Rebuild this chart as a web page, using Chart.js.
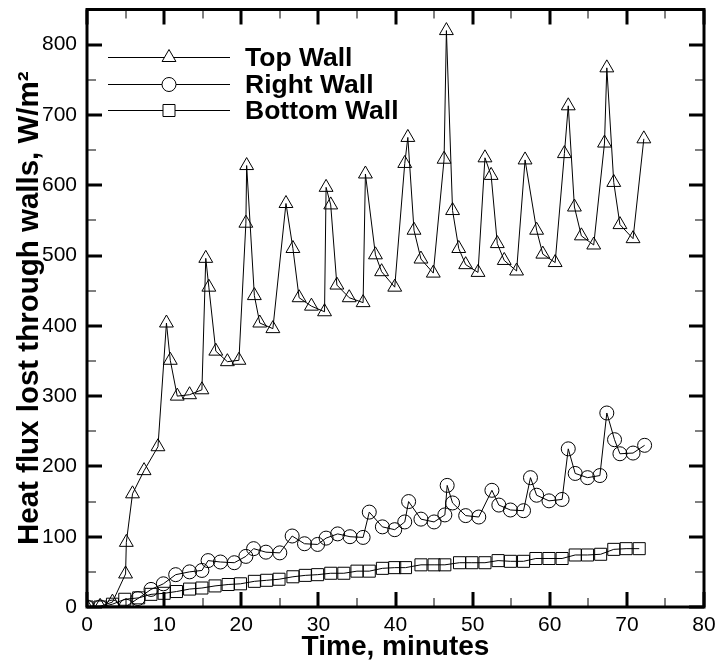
<!DOCTYPE html>
<html lang="en">
<head>
<meta charset="UTF-8">
<title>Heat flux lost through walls</title>
<script src="https://cdn.jsdelivr.net/npm/chart.js"></script>
<style>
  html, body { margin: 0; padding: 0; background: #fff; }
  .graph { position: relative; width: 717px; height: 667px; }
</style>
</head>
<body>
<div class="graph">
  <canvas id="fluxChart" width="717" height="667"></canvas>
</div>
<script>
// time (minutes) and heat flux (W/m2) for each wall
var topTime = [0, 1.7, 3.3, 5.0, 5.1, 5.9, 7.4, 9.2, 10.3, 10.8,
  11.7, 13.3, 14.9, 15.4, 15.8, 16.7, 18.2, 19.7, 20.6, 20.7,
  21.7, 22.4, 24.1, 25.8, 26.7, 27.5, 29.1, 30.8, 31.0, 31.6,
  32.4, 34.0, 35.8, 36.1, 37.4, 38.2, 39.9, 41.2, 41.6, 42.4,
  43.3, 44.9, 46.3, 46.6, 47.4, 48.2, 49.1, 50.7, 51.6, 52.4,
  53.2, 54.1, 55.7, 56.8, 58.3, 59.1, 60.7, 61.9, 62.4, 63.2,
  64.1, 65.7, 67.1, 67.4, 68.3, 69.1, 70.8, 72.2];
var topFlux = [0, 1, 7, 47, 92, 161, 194, 228, 404, 351,
  300, 302, 309, 496, 455, 364, 349, 351, 546, 628,
  443, 404, 396, 574, 510, 440, 428, 420, 597, 572,
  458, 440, 433, 616, 501, 477, 455, 631, 668, 536,
  495, 475, 637, 820, 564, 510, 487, 476, 639, 614,
  517, 493, 478, 636, 536, 502, 490, 645, 713, 569,
  528, 515, 660, 767, 604, 544, 524, 666];

var rightTime = [0, 1.7, 3.3, 5.1, 6.6, 8.3, 9.9, 11.5, 13.3, 14.9,
  15.7, 17.3, 19.1, 20.6, 21.6, 23.2, 25.0, 26.6, 28.2, 29.9,
  31.0, 32.5, 34.1, 35.8, 36.6, 38.3, 39.9, 41.2, 41.7, 43.3,
  45.0, 46.4, 46.7, 47.4, 49.1, 50.8, 52.5, 53.4, 54.9, 56.6,
  57.5, 58.3, 59.9, 61.6, 62.4, 63.3, 64.9, 66.5, 67.4, 68.4,
  69.1, 70.8, 72.3];
var rightFlux = [0, 0, 0, 1, 12, 25, 33, 46, 50, 52,
  66, 64, 63, 72, 83, 78, 77, 101, 90, 89,
  98, 104, 100, 99, 135, 114, 110, 121, 150, 125,
  121, 131, 173, 148, 130, 128, 166, 145, 138, 137,
  184, 159, 151, 153, 225, 190, 184, 187, 276, 238,
  218, 219, 230];

var bottomTime = [0, 1.7, 3.3, 4.9, 6.7, 8.3, 10.0, 11.6, 13.3, 14.9,
  16.6, 18.3, 19.9, 21.7, 23.3, 24.9, 26.7, 28.3, 29.9, 31.6,
  33.3, 35.0, 36.6, 38.3, 39.9, 41.3, 43.3, 45.0, 46.4, 48.3,
  49.9, 51.6, 53.3, 54.9, 56.6, 58.2, 59.9, 61.6, 63.3, 64.9,
  66.6, 68.3, 69.9, 71.6];
var bottomFlux = [0, 0, 4, 11, 13, 18, 19.5, 22, 25.5, 27,
  30, 32, 33, 36.5, 38, 39.5, 43, 45, 46, 48,
  48, 51, 51, 55, 56, 56, 60, 60, 60, 63,
  63, 63, 66, 65, 65, 69, 69, 69, 74, 74,
  75, 82, 83, 83];

var seriesNames = ['Top Wall', 'Right Wall', 'Bottom Wall'];
var xTicks = [0, 10, 20, 30, 40, 50, 60, 70, 80];
var yTicks = [0, 100, 200, 300, 400, 500, 600, 700, 800];

var fontName = "'Liberation Sans', Arial, sans-serif";

function toPoints(xs, ys) {
  var pts = [];
  for (var i = 0; i < xs.length; i++) {
    pts.push({x: xs[i], y: ys[i]});
  }
  return pts;
}

function serie(label, pts, style, r) {
  return {
    label: label,
    data: pts,
    borderColor: '#000',
    borderWidth: 1,
    pointStyle: style,
    pointRadius: r,
    pointHoverRadius: r,
    pointBorderWidth: 1,
    pointBorderColor: '#000',
    pointBackgroundColor: 'rgba(0,0,0,0)',
    tension: 0
  };
}

// marker shapes, also used by the legend box
function marker(ctx, style, x, y, r) {
  ctx.beginPath();
  if (style == 'triangle') {
    var w = r * Math.sin(Math.PI * 2 / 3);
    ctx.moveTo(x, y - r);
    ctx.lineTo(x + w, y + r / 2);
    ctx.lineTo(x - w, y + r / 2);
    ctx.closePath();
  } else if (style == 'circle') {
    ctx.arc(x, y, r, 0, Math.PI * 2);
  } else {
    var s = Math.SQRT1_2 * r;
    ctx.rect(x - s, y - s, 2 * s, 2 * s);
  }
  ctx.fill();
  ctx.stroke();
}

// no extra room for the end labels, the frame sits at the padding
function noLabelPadding(s) {
  s.paddingTop = 0;
  s.paddingBottom = 0;
  s.paddingLeft = 0;
  s.paddingRight = 0;
}

// thick frame with inward ticks on all four sides + legend
var framePlugin = {
  id: 'frame',
  afterDraw: function (chart) {
    var ctx = chart.ctx;
    var a = chart.chartArea;
    var xs = chart.scales.x, ys = chart.scales.y;
    ctx.save();
    ctx.strokeStyle = '#000';
    ctx.lineCap = 'butt';

    var v, px, big;
    for (v = 0; v <= 80; v += 5) {
      px = Math.round(xs.getPixelForValue(v));
      big = v % 10 == 0;
      ctx.lineWidth = big ? 3 : 1;
      var len = big ? 15 : 9;
      ctx.beginPath();
      ctx.moveTo(px, a.bottom); ctx.lineTo(px, a.bottom - len);
      ctx.moveTo(px, a.top); ctx.lineTo(px, a.top + len);
      ctx.stroke();
    }
    for (v = 0; v <= 850; v += 50) {
      px = Math.round(ys.getPixelForValue(v));
      big = v % 100 == 0;
      ctx.lineWidth = big ? 3 : 1;
      var len2 = big ? 15 : 9;
      ctx.beginPath();
      ctx.moveTo(a.left, px); ctx.lineTo(a.left + len2, px);
      ctx.moveTo(a.right, px); ctx.lineTo(a.right - len2, px);
      ctx.stroke();
    }

    ctx.lineWidth = 3;
    ctx.strokeRect(a.left, a.top, a.right - a.left, a.bottom - a.top);

    // legend
    var rows = [48, 75, 101];
    ctx.font = 'bold 26.5px ' + fontName;
    ctx.textBaseline = 'middle';
    ctx.fillStyle = '#000';
    chart.data.datasets.forEach(function (ds, i) {
      var y = a.top + rows[i];
      ctx.lineWidth = 1;
      ctx.beginPath();
      ctx.moveTo(a.left + 21, y);
      ctx.lineTo(a.left + 143, y);
      ctx.stroke();
      ctx.fillStyle = '#fff';
      marker(ctx, ds.pointStyle, a.left + 82, y, ds.pointRadius);
      ctx.fillStyle = '#000';
      ctx.fillText(ds.label, a.left + 158, y + 1);
    });
    ctx.restore();
  }
};

var ctx = document.getElementById('fluxChart').getContext('2d');
var fluxChart = new Chart(ctx, {
  type: 'line',
  data: {
    datasets: [
      serie(seriesNames[0], toPoints(topTime, topFlux), 'triangle', 8),
      serie(seriesNames[1], toPoints(rightTime, rightFlux), 'circle', 7),
      serie(seriesNames[2], toPoints(bottomTime, bottomFlux), 'rect', 8.5)
    ]
  },
  options: {
    responsive: false,
    animation: false,
    events: [],
    layout: { padding: { top: 9, right: 13, left: 0, bottom: 0 } },
    plugins: {
      legend: { display: false },
      tooltip: { enabled: false }
    },
    scales: {
      x: {
        type: 'linear',
        min: 0,
        max: 80,
        afterBuildTicks: function (s) {
          s.ticks = xTicks.map(function (t) { return {value: t}; });
        },
        afterFit: function (s) { s.height = 60; noLabelPadding(s); },
        grid: { display: false, drawTicks: false },
        border: { display: false },
        ticks: {
          color: '#000',
          padding: 6,
          maxRotation: 0,
          font: { family: fontName, size: 21 }
        },
        title: {
          display: true,
          text: 'Time, minutes',
          color: '#000',
          padding: { top: 0, bottom: 3 },
          font: { family: fontName, size: 28, weight: 'bold' }
        }
      },
      y: {
        type: 'linear',
        min: 0,
        max: 850,
        afterBuildTicks: function (s) {
          s.ticks = yTicks.map(function (t) { return {value: t}; });
        },
        afterFit: function (s) { s.width = 87; noLabelPadding(s); },
        grid: { display: false, drawTicks: false },
        border: { display: false },
        ticks: {
          color: '#000',
          padding: 10,
          font: { family: fontName, size: 21 }
        },
        title: {
          display: true,
          text: 'Heat flux lost through walls, W/m²',
          color: '#000',
          padding: { top: 12, bottom: 0 },
          font: { family: fontName, size: 29.5, weight: 'bold' }
        }
      }
    }
  },
  plugins: [framePlugin]
});
</script>
</body>
</html>
